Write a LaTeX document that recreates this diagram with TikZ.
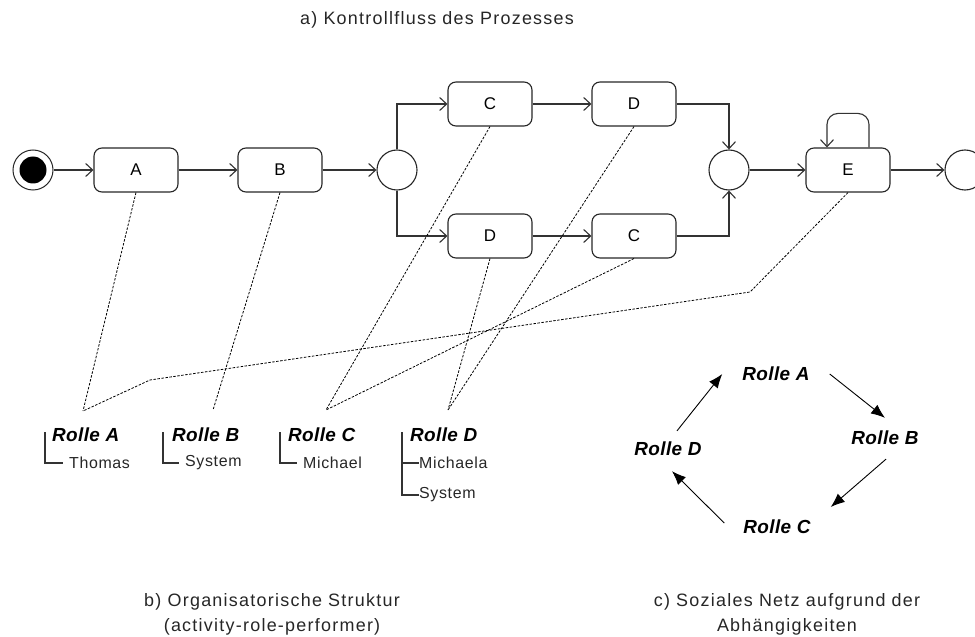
\documentclass[tikz,border=0pt]{standalone}
\usepackage{fontspec}
\setmainfont{Liberation Sans}
\newfontfamily\capfont[LetterSpace=7]{Liberation Sans}
\newfontfamily\namefont[LetterSpace=4]{Liberation Sans}
\newfontfamily\rolefont[LetterSpace=2]{Liberation Sans}
\usetikzlibrary{arrows.meta}
\begin{document}
\begin{tikzpicture}[x=1bp,y=-1bp,
  act/.style={draw=black!85, rounded corners=8bp, minimum width=84bp, minimum height=44bp,
    line width=1.1bp, font=\fontsize{17}{20}\selectfont},
  gate/.style={draw=black!85, circle, minimum size=40bp, inner sep=0pt, line width=1.1bp},
  flow/.style={line width=1.1bp, draw=black!80, -{Straight Barb[length=7bp,width=13bp]}},
  assign/.style={dash pattern=on 2.5bp off 1.5bp, line width=0.8bp},
  tree/.style={line width=1.1bp, draw=black!80},
  role/.style={font=\rolefont\fontsize{19}{22}\selectfont\bfseries\itshape, inner sep=0pt},
  person/.style={font=\namefont\fontsize{16}{18}\selectfont, text=black!85, inner sep=0pt, anchor=west},
  dep/.style={line width=0.9bp, -{Latex[length=14bp,width=11bp]}},
  caption/.style={font=\capfont\fontsize{18}{25}\selectfont, text=black!85, align=center}
]
\useasboundingbox (0,0) rectangle (975,637);

% ---------- a) control flow ----------
\node[caption] (title) at (437,20) {a) Kontrollfluss des Prozesses};

\node[circle, draw=black!85, line width=1bp, minimum size=40bp, inner sep=0pt] (start) at (33,170) {};
\node[circle, fill=black, minimum size=27bp, inner sep=0pt] (startdot) at (start) {};

\node[act] (A) at (136,170) {A};
\node[act] (B) at (280,170) {B};
\node[gate] (split) at (397,170) {};
\node[act] (C1) at (490,104) {C};
\node[act] (D1) at (634,104) {D};
\node[act] (D2) at (490,236) {D};
\node[act] (C2) at (634,236) {C};
\node[gate] (join) at (729,170) {};
\node[act] (E) at (848,170) {E};
\node[gate] (end) at (965,170) {};

\draw[flow] (start) -- (A);
\draw[flow] (A) -- (B);
\draw[flow] (B) -- (split);
\draw[flow] (split) |- (C1);
\draw[flow] (split) |- (D2);
\draw[flow] (C1) -- (D1);
\draw[flow] (D2) -- (C2);
\draw[flow] (D1) -| (join);
\draw[flow] (C2) -| (join);
\draw[flow] (join) -- (E);
\draw[flow] (E) -- (end);
\draw[flow, rounded corners=11bp] ([xshift=21bp]E.north) -- ++(0,-34) -- ++(-42,0) -- ([xshift=-21bp]E.north);

% ---------- b) organisational structure ----------
\coordinate (ra) at (83,411);
\coordinate (rb) at (213,410);
\coordinate (rc) at (326,410);
\coordinate (rd) at (448,410);
\coordinate (ek1) at (750,292);
\coordinate (ek2) at (150,380);

\draw[assign] (A.south) -- (ra);
\draw[assign] (B.south) -- (rb);
\draw[assign] (C1.south) -- (rc);
\draw[assign] (C2.south) -- (rc);
\draw[assign] (D1.south) -- (rd);
\draw[assign] (D2.south) -- (rd);
\draw[assign] (E.south) -- (ek1) -- (ek2) -- (ra);

\node[role, anchor=west] (rolleA) at (52,435) {Rolle A};
\node[person] (thomas) at (69,463) {Thomas};
\draw[tree] (45,432) |- (thomas.west -| 63,0);

\node[role, anchor=west] (rolleB) at (172,435) {Rolle B};
\node[person] (systemB) at (185,463) {System};
\draw[tree] (163,432) |- (systemB.west -| 179,0);

\node[role, anchor=west] (rolleC) at (288,435) {Rolle C};
\node[person] (michael) at (303,463) {Michael};
\draw[tree] (280,432) |- (michael.west -| 297,0);

\node[role, anchor=west] (rolleD) at (410,435) {Rolle D};
\node[person] (michaela) at (419,463) {Michaela};
\node[person] (systemD) at (419,495) {System};
\draw[tree] (402,432) |- (systemD.west);
\draw[tree] (402,463) -- (michaela.west);

\node[caption] (capb) at (272,614) {b) Organisatorische Struktur\\(activity-role-performer)};

% ---------- c) social network ----------
\node[role] (nA) at (776,374) {Rolle A};
\node[role] (nB) at (885,438) {Rolle B};
\node[role] (nC) at (777,527) {Rolle C};
\node[role] (nD) at (668,449) {Rolle D};

\draw[dep] ([shift={(9,-11)}]nD.north) -- ([shift={(-20,0)}]nA.west);
\draw[dep] ([shift={(20,0)}]nA.east) -- ([shift={(0,-13)}]nB.north);
\draw[dep] ([shift={(1,14)}]nB.south) -- ([shift={(20,-20)}]nC.east);
\draw[dep] ([shift={(-19,-4)}]nC.west) -- ([shift={(4,15)}]nD.south);

\node[caption] (capc) at (787,614) {c) Soziales Netz aufgrund der\\Abhängigkeiten};
\end{tikzpicture}
\end{document}
